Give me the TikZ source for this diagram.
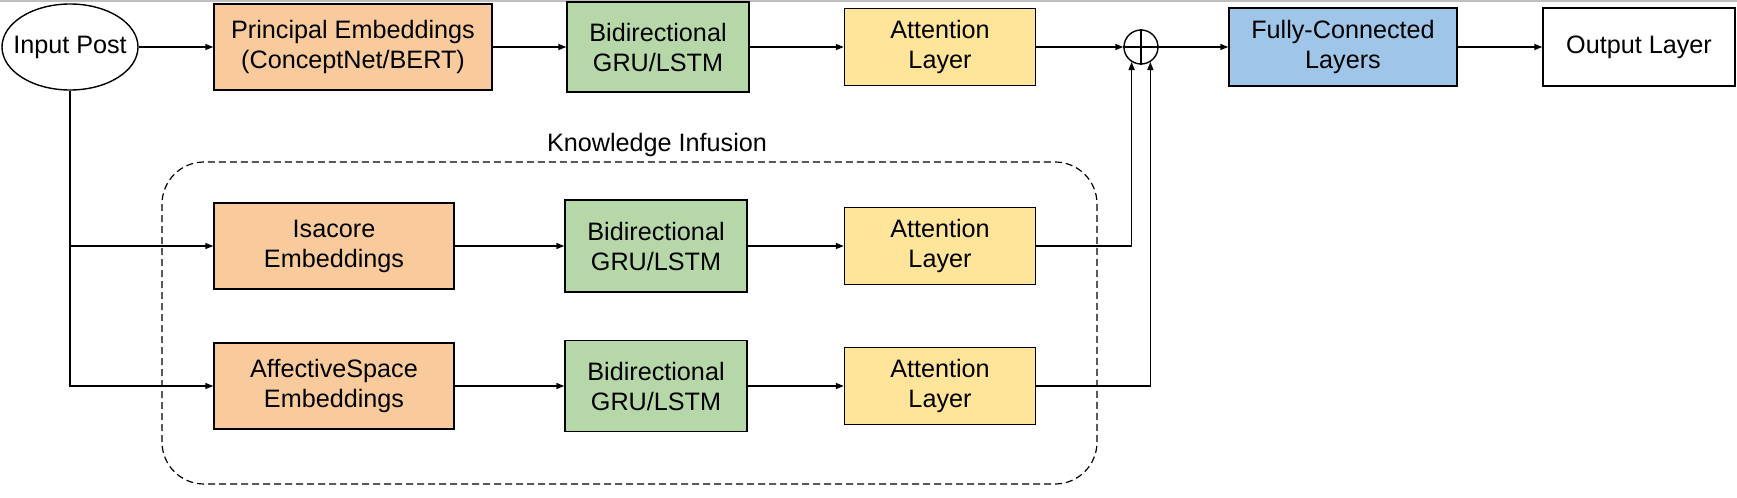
\documentclass[tikz,border=0pt]{standalone}
\usepackage{fontspec}
\setmainfont{Liberation Sans}
\usetikzlibrary{shapes.geometric,arrows.meta}

\definecolor{embfill}{HTML}{F9CB9C}
\definecolor{rnnfill}{HTML}{B6D7A8}
\definecolor{attfill}{HTML}{FFE599}
\definecolor{fcfill}{HTML}{9FC5E8}

\tikzset{
	block/.style={draw, line width=0.7pt, inner sep=0pt, align=center,
		font=\fontsize{12.6}{15}\selectfont},
	embbox/.style={block, fill=embfill},
	rnnbox/.style={block, fill=rnnfill, minimum width=91pt},
	attbox/.style={block, fill=attfill, minimum width=95.5pt, minimum height=38.5pt},
	link/.style={line width=0.7pt, -{Triangle[length=4pt,width=3pt]}},
}

\begin{document}
\begin{tikzpicture}[x=0.5pt,y=-0.5pt]
	\useasboundingbox (0,0) rectangle (1737,498);
	\draw[black!25, line width=0.8pt] (0,1) -- (1737,1);

	% top row
	\node[block, shape=ellipse, inner xsep=-4.5pt, minimum width=68pt, minimum height=43pt] (post) at (70,47) {Input Post};
	\node[embbox, minimum width=139pt, minimum height=43pt] (emb1) at (353,47) {Principal Embeddings\\(ConceptNet/BERT)};
	\node[rnnbox, minimum height=45pt] (rnn1) at (658,47) {Bidirectional\\GRU/LSTM};
	\node[attbox] (att1) at (940,47) {Attention\\Layer};
	\node[draw, line width=0.7pt, shape=circle, minimum size=17pt, inner sep=0pt] (plus) at (1141,47) {};
	\node[block, fill=fcfill, minimum width=114pt, minimum height=39pt] (fc) at (1343,47) {Fully-Connected\\Layers};
	\node[block, minimum width=96pt, minimum height=39pt] (out) at (1639,47) {Output Layer};

	% knowledge infusion
	\node[font=\fontsize{12.6}{15}\selectfont] (ki) at (657,145) {Knowledge Infusion};
	\draw[line width=0.6pt, dash pattern=on 3.5pt off 2pt, rounded corners=21pt] (162,162) rectangle (1097,484);

	\node[embbox, minimum width=120pt, minimum height=43pt] (emb2) at (334,246) {Isacore\\Embeddings};
	\node[rnnbox, minimum height=46pt] (rnn2) at (656,246) {Bidirectional\\GRU/LSTM};
	\node[attbox] (att2) at (940,246) {Attention\\Layer};

	\node[embbox, minimum width=120pt, minimum height=43pt] (emb3) at (334,386) {AffectiveSpace\\Embeddings};
	\node[rnnbox, minimum height=45.5pt] (rnn3) at (656,386) {Bidirectional\\GRU/LSTM};
	\node[attbox] (att3) at (940,386) {Attention\\Layer};

	\draw[line width=0.7pt] (plus.north) -- (plus.south);
	\draw[line width=0.7pt] (plus.west) -- (plus.east);

	\path [link] (post) edge (emb1);
	\path [link] (emb1) edge (rnn1);
	\path [link] (rnn1) edge (att1);
	\path [link] (att1) edge (plus);
	\path [link] (plus) edge (fc);
	\path [link] (fc) edge (out);

	\path [link] (emb2) edge (rnn2);
	\path [link] (rnn2) edge (att2);
	\path [link] (emb3) edge (rnn3);
	\path [link] (rnn3) edge (att3);

	\draw[link] (post.south) |- (emb2.west);
	\draw[link] (post.south) |- (emb3.west);
	\draw[link] (att2.east) -| (plus.-122);
	\draw[link] (att3.east) -| (plus.-58);
\end{tikzpicture}
\end{document}
